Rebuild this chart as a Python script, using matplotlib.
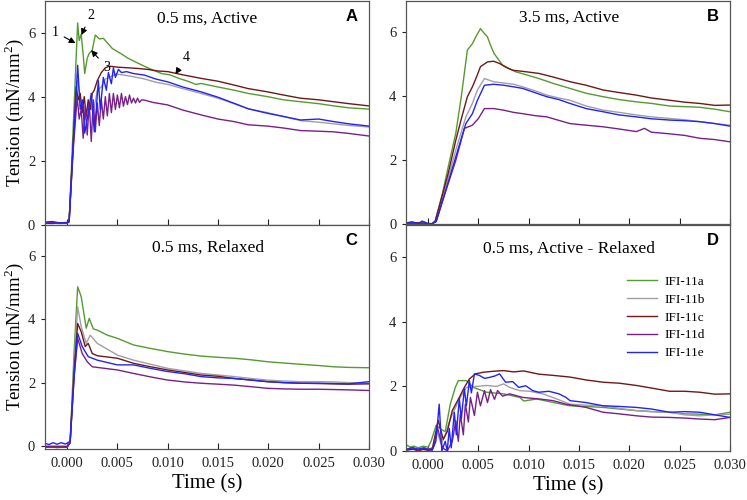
import matplotlib
matplotlib.use("Agg")
import matplotlib.pyplot as plt

plt.rcParams['font.family'] = ['Liberation Serif', 'DejaVu Serif']
plt.rcParams['mathtext.fontset'] = 'custom'
plt.rcParams['mathtext.rm'] = 'Liberation Serif'

names = ['IFI-11a', 'IFI-11b', 'IFI-11c', 'IFI-11d', 'IFI-11e']
colors = ['#569a30', '#a0a0a0', '#701818', '#781f8c', '#2222ff']

# ---- panel A : 0.5 ms, Active ----
a_t_a = [-0.0022, -0.0015, -0.0008, 0.0, 0.0002, 0.0006, 0.00095, 0.00105, 0.0012, 0.0014, 0.0016, 0.00175, 0.002, 0.0022, 0.0025, 0.0028, 0.0032, 0.0036, 0.0045, 0.0053, 0.0061, 0.007, 0.0078, 0.0086, 0.0094, 0.0102, 0.0111, 0.012, 0.0128, 0.0133, 0.015, 0.0166, 0.018, 0.0199, 0.0215, 0.0232, 0.025, 0.0265, 0.028, 0.030]
a_y_a = [0.05, 0.08, 0.04, 0.05, 0.1, 3.0, 5.6, 6.3, 5.75, 5.95, 5.3, 4.72, 5.2, 5.35, 5.45, 5.92, 5.8, 5.82, 5.5, 5.35, 5.19, 5.05, 4.93, 4.82, 4.72, 4.68, 4.57, 4.48, 4.38, 4.41, 4.3, 4.2, 4.1, 4.0, 3.9, 3.84, 3.78, 3.71, 3.65, 3.61]
a_t_b = [-0.0022, 0.0, 0.0002, 0.0006, 0.00105, 0.0014, 0.0018, 0.0022, 0.0026, 0.003, 0.0034, 0.0038, 0.0042, 0.0048, 0.0055, 0.0066, 0.0077, 0.0088, 0.01, 0.0115, 0.0133, 0.015, 0.0166, 0.018, 0.0199, 0.0215, 0.0232, 0.025, 0.0265, 0.028, 0.030]
a_y_b = [0.05, 0.05, 0.1, 2.4, 4.5, 3.8, 3.3, 3.8, 3.5, 4.2, 4.3, 4.55, 4.6, 4.7, 4.68, 4.62, 4.55, 4.45, 4.38, 4.25, 4.1, 3.95, 3.78, 3.62, 3.5, 3.38, 3.25, 3.2, 3.15, 3.1, 3.05]
a_t_c = [-0.0022, -0.0015, -0.0008, 0.0, 0.0002, 0.0006, 0.0009, 0.0011, 0.0013, 0.0015, 0.0017, 0.0019, 0.0021, 0.0023, 0.0025, 0.0027, 0.003, 0.0034, 0.0038, 0.0042, 0.005, 0.006, 0.007, 0.008, 0.009, 0.01, 0.0115, 0.0133, 0.015, 0.0166, 0.018, 0.0199, 0.0215, 0.0232, 0.025, 0.0265, 0.028, 0.030]
a_y_c = [0.08, 0.1, 0.06, 0.07, 0.1, 2.5, 4.3, 3.9, 4.1, 3.5, 4.0, 3.4, 3.9, 3.6, 4.1, 4.2, 4.5, 4.75, 4.9, 4.95, 4.92, 4.9, 4.88, 4.85, 4.8, 4.78, 4.68, 4.57, 4.48, 4.36, 4.25, 4.15, 4.05, 3.95, 3.9, 3.84, 3.78, 3.71]
a_t_d = [-0.0022, -0.0015, -0.0008, 0.0, 0.0002, 0.0006, 0.001, 0.0012, 0.0014, 0.0016, 0.0018, 0.002, 0.0022, 0.0024, 0.0026, 0.0028, 0.003, 0.0032, 0.0034, 0.0036, 0.0038, 0.004, 0.0042, 0.0044, 0.0046, 0.0048, 0.005, 0.0052, 0.0054, 0.0056, 0.0058, 0.006, 0.0062, 0.0064, 0.0066, 0.0068, 0.007, 0.0072, 0.0074, 0.0077, 0.0085, 0.01, 0.0115, 0.0133, 0.015, 0.0166, 0.018, 0.0199, 0.0215, 0.0232, 0.025, 0.0265, 0.028, 0.030]
a_y_d = [0.06, 0.08, 0.05, 0.07, 0.1, 2.3, 4.0, 3.3, 3.6, 2.7, 3.7, 2.8, 3.8, 2.6, 3.9, 2.9, 3.8, 3.1, 3.9, 3.3, 4.0, 3.4, 4.1, 3.5, 4.1, 3.6, 4.05, 3.65, 4.1, 3.7, 4.0, 3.75, 4.05, 3.8, 3.95, 3.8, 3.95, 3.82, 3.9, 3.89, 3.82, 3.74, 3.58, 3.43, 3.3, 3.22, 3.12, 3.08, 3.02, 2.94, 2.92, 2.9, 2.85, 2.77]
a_t_e = [-0.0022, -0.0015, -0.0008, 0.0, 0.0002, 0.0006, 0.00105, 0.0013, 0.00155, 0.00175, 0.002, 0.0024, 0.0027, 0.0029, 0.0031, 0.0033, 0.0036, 0.0039, 0.0041, 0.0044, 0.0046, 0.0048, 0.0051, 0.0054, 0.0059, 0.0066, 0.0077, 0.0088, 0.01, 0.0115, 0.0133, 0.015, 0.0166, 0.018, 0.0199, 0.0215, 0.0232, 0.025, 0.0265, 0.028, 0.030]
a_y_e = [0.05, 0.04, 0.06, 0.05, 0.1, 2.5, 4.98, 3.6, 3.9, 2.86, 3.3, 4.1, 2.9, 3.6, 4.5, 3.6, 4.6, 4.2, 4.75, 4.4, 4.9, 4.6, 4.85, 4.75, 4.78, 4.72, 4.67, 4.55, 4.46, 4.3, 4.15, 3.98, 3.79, 3.62, 3.48, 3.38, 3.27, 3.3, 3.22, 3.15, 3.08]

# ---- panel B : 3.5 ms, Active ----
b_t_a = [-0.0022, -0.0015, -0.001, -0.0005, 0.0, 0.0004, 0.0007, 0.00143, 0.002, 0.00275, 0.0033, 0.0039, 0.0044, 0.0048, 0.0052, 0.0055, 0.0059, 0.0062, 0.00656, 0.007, 0.0074, 0.008, 0.0087, 0.0095, 0.011, 0.0125, 0.0141, 0.0157, 0.0174, 0.019, 0.0207, 0.0222, 0.024, 0.0255, 0.027, 0.0285, 0.030]
b_y_a = [0.03, 0.06, 0.0, 0.08, 0.02, 0.02, 0.1, 0.97, 1.8, 2.85, 4.0, 5.45, 5.65, 5.9, 6.12, 6.0, 5.86, 5.6, 5.34, 5.15, 4.98, 4.88, 4.77, 4.7, 4.56, 4.4, 4.25, 4.1, 3.99, 3.9, 3.83, 3.78, 3.7, 3.68, 3.66, 3.6, 3.52]
b_t_b = [-0.0022, 0.0, 0.0004, 0.0008, 0.0015, 0.00275, 0.00375, 0.0044, 0.0049, 0.0056, 0.0065, 0.0075, 0.0085, 0.0094, 0.0106, 0.0118, 0.013, 0.0141, 0.0157, 0.0174, 0.019, 0.0207, 0.0222, 0.024, 0.0255, 0.027, 0.0285, 0.030]
b_y_b = [0.02, 0.02, 0.02, 0.1, 0.9, 2.32, 3.36, 3.78, 4.2, 4.56, 4.46, 4.42, 4.38, 4.3, 4.18, 4.04, 3.95, 3.88, 3.7, 3.57, 3.5, 3.42, 3.36, 3.31, 3.27, 3.21, 3.15, 3.1]
b_t_c = [-0.0022, -0.001, 0.0, 0.0004, 0.0007, 0.0011, 0.002, 0.00275, 0.0033, 0.0039, 0.0044, 0.0048, 0.0052, 0.0059, 0.0065, 0.0071, 0.0078, 0.0084, 0.0095, 0.011, 0.0125, 0.0141, 0.0157, 0.0174, 0.019, 0.0207, 0.0222, 0.024, 0.0255, 0.027, 0.0285, 0.030]
b_y_c = [0.03, 0.05, 0.02, 0.02, 0.1, 0.55, 1.6, 2.63, 3.3, 3.99, 4.3, 4.6, 4.93, 5.08, 5.1, 5.03, 4.9, 4.82, 4.78, 4.72, 4.6, 4.46, 4.35, 4.2, 4.12, 4.04, 3.95, 3.88, 3.82, 3.78, 3.72, 3.73]
b_t_d = [-0.0022, 0.0, 0.0004, 0.0008, 0.0015, 0.00275, 0.0036, 0.0044, 0.005, 0.0056, 0.0065, 0.0075, 0.0085, 0.0094, 0.0106, 0.0118, 0.013, 0.0141, 0.0157, 0.0174, 0.019, 0.0207, 0.0215, 0.0222, 0.024, 0.0255, 0.027, 0.0285, 0.030]
b_y_d = [0.02, 0.02, 0.02, 0.1, 0.8, 2.0, 3.0, 3.1, 3.31, 3.62, 3.62, 3.57, 3.5, 3.46, 3.4, 3.36, 3.25, 3.15, 3.1, 3.05, 2.98, 2.9, 3.0, 2.88, 2.83, 2.78, 2.69, 2.65, 2.58]
b_t_e = [-0.0022, -0.0016, -0.001, -0.0006, 0.0, 0.0004, 0.0008, 0.0015, 0.00275, 0.00375, 0.0044, 0.0049, 0.0056, 0.0065, 0.0075, 0.0085, 0.0094, 0.0106, 0.0118, 0.013, 0.0141, 0.0157, 0.0174, 0.019, 0.0207, 0.0222, 0.024, 0.0255, 0.027, 0.0285, 0.030]
b_y_e = [0.04, 0.08, 0.02, 0.1, 0.02, 0.02, 0.08, 0.8, 2.11, 3.15, 3.46, 3.88, 4.35, 4.38, 4.35, 4.3, 4.25, 4.12, 3.99, 3.9, 3.78, 3.62, 3.52, 3.42, 3.36, 3.3, 3.26, 3.24, 3.21, 3.15, 3.07]

# ---- panel C : 0.5 ms, Relaxed ----
c_t_a = [-0.0022, -0.0015, -0.001, -0.0005, 0.0, 0.0003, 0.0007, 0.00105, 0.0014, 0.0019, 0.0022, 0.0026, 0.003, 0.004, 0.005, 0.0066, 0.0083, 0.01, 0.0117, 0.0133, 0.015, 0.0166, 0.0183, 0.0199, 0.0215, 0.0232, 0.025, 0.0265, 0.028, 0.030]
c_y_a = [-0.05, -0.03, -0.06, -0.04, -0.05, 0.1, 3.0, 5.03, 4.72, 3.72, 4.03, 3.7, 3.66, 3.5, 3.4, 3.19, 3.08, 2.98, 2.9, 2.84, 2.8, 2.77, 2.72, 2.66, 2.62, 2.58, 2.54, 2.5, 2.48, 2.47]
c_t_b = [-0.0022, 0.0, 0.0003, 0.0007, 0.00105, 0.0014, 0.0019, 0.0023, 0.003, 0.005, 0.0066, 0.0083, 0.01, 0.0117, 0.0133, 0.015, 0.0166, 0.0183, 0.0199, 0.0215, 0.0232, 0.025, 0.0265, 0.028, 0.030]
c_y_b = [0.0, 0.0, 0.1, 2.6, 4.4, 3.77, 3.24, 3.5, 3.24, 2.87, 2.71, 2.58, 2.45, 2.37, 2.29, 2.24, 2.19, 2.13, 2.08, 2.05, 2.03, 2.03, 2.02, 2.0, 1.98]
c_t_c = [-0.0022, 0.0, 0.0003, 0.0007, 0.00105, 0.0014, 0.0018, 0.0021, 0.0025, 0.003, 0.005, 0.0066, 0.0083, 0.01, 0.0117, 0.0133, 0.015, 0.0166, 0.0183, 0.0199, 0.0215, 0.0232, 0.025, 0.0265, 0.028, 0.030]
c_y_c = [-0.03, -0.03, 0.1, 2.4, 3.87, 3.61, 3.14, 3.24, 2.92, 2.85, 2.77, 2.61, 2.5, 2.4, 2.32, 2.24, 2.2, 2.13, 2.08, 2.03, 2.0, 1.98, 1.97, 1.96, 1.95, 1.96]
c_t_d = [-0.0022, 0.0, 0.0003, 0.0007, 0.00105, 0.0015, 0.002, 0.0025, 0.005, 0.0066, 0.0083, 0.01, 0.0117, 0.0133, 0.015, 0.0166, 0.0183, 0.0199, 0.0215, 0.0232, 0.025, 0.0265, 0.028, 0.030]
c_y_d = [-0.04, -0.04, 0.1, 2.2, 3.4, 2.92, 2.66, 2.5, 2.4, 2.29, 2.18, 2.08, 2.02, 1.98, 1.95, 1.92, 1.87, 1.82, 1.8, 1.79, 1.79, 1.78, 1.77, 1.75]
c_t_e = [-0.0022, -0.0018, -0.0014, -0.001, -0.0006, -0.0002, 0.0, 0.0003, 0.0007, 0.00105, 0.0015, 0.0021, 0.003, 0.005, 0.0066, 0.0083, 0.01, 0.0117, 0.0133, 0.015, 0.0166, 0.0183, 0.0199, 0.0215, 0.0232, 0.025, 0.0265, 0.028, 0.030]
c_y_e = [0.08, 0.04, 0.1, 0.05, 0.1, 0.06, 0.08, 0.15, 2.2, 3.56, 3.14, 2.82, 2.71, 2.56, 2.56, 2.45, 2.35, 2.28, 2.19, 2.15, 2.13, 2.08, 2.03, 2.0, 1.98, 1.98, 1.97, 1.96, 2.03]

# ---- panel D : 0.5 ms, Active - Relaxed ----
d_t_a = [-0.0022, -0.0018, -0.0014, -0.001, -0.0005, 0.0, 0.0003, 0.0008, 0.0013, 0.0017, 0.0022, 0.0027, 0.003, 0.0038, 0.0045, 0.0058, 0.0075, 0.0091, 0.0095, 0.0108, 0.0125, 0.0141, 0.0157, 0.0174, 0.019, 0.0207, 0.0222, 0.024, 0.0255, 0.027, 0.0285, 0.030]
d_y_a = [0.2, 0.12, 0.15, 0.1, 0.15, 0.12, 0.31, 0.8, 0.67, 0.6, 1.45, 1.97, 2.18, 2.18, 1.97, 1.82, 1.77, 1.66, 1.55, 1.61, 1.5, 1.4, 1.38, 1.35, 1.3, 1.25, 1.22, 1.2, 1.15, 1.14, 1.12, 1.2]
d_t_b = [-0.0022, -0.001, 0.0, 0.0005, 0.0009, 0.0013, 0.0017, 0.0021, 0.0025, 0.0032, 0.0038, 0.0048, 0.0058, 0.0068, 0.0075, 0.0081, 0.0091, 0.0101, 0.0114, 0.0128, 0.0141, 0.0157, 0.0174, 0.019, 0.0207, 0.0222, 0.024, 0.0255, 0.027, 0.0285, 0.030]
d_y_b = [0.05, 0.05, 0.05, 0.1, 0.6, 0.2, 0.5, 0.9, 1.2, 1.66, 1.97, 2.0, 2.03, 2.0, 2.08, 1.97, 1.87, 1.85, 1.77, 1.61, 1.45, 1.42, 1.4, 1.32, 1.25, 1.22, 1.2, 1.12, 1.09, 1.12, 1.14]
d_t_c = [-0.0022, -0.0015, -0.001, -0.0005, 0.0, 0.0004, 0.0007, 0.001, 0.0015, 0.0019, 0.0024, 0.0031, 0.0036, 0.0041, 0.0047, 0.0055, 0.0065, 0.0075, 0.0085, 0.0095, 0.0101, 0.011, 0.0125, 0.0141, 0.0157, 0.0174, 0.019, 0.0207, 0.0222, 0.024, 0.0255, 0.027, 0.0285, 0.030]
d_y_c = [0.02, 0.06, 0.0, 0.05, 0.02, 0.05, 0.5, 0.95, 0.36, 0.6, 1.25, 1.66, 1.97, 2.23, 2.39, 2.44, 2.47, 2.49, 2.45, 2.48, 2.44, 2.38, 2.34, 2.29, 2.2, 2.13, 2.1, 2.03, 1.95, 1.85, 1.85, 1.82, 1.76, 1.77]
d_t_d = [-0.0022, -0.0015, -0.001, -0.0005, 0.0, 0.0005, 0.00093, 0.00143, 0.0019, 0.0024, 0.00275, 0.003, 0.0032, 0.0035, 0.0037, 0.004, 0.0042, 0.0046, 0.0049, 0.0052, 0.0056, 0.0059, 0.0062, 0.0066, 0.0069, 0.0074, 0.0081, 0.0094, 0.0111, 0.0124, 0.0137, 0.0157, 0.0174, 0.019, 0.0207, 0.0222, 0.024, 0.0255, 0.027, 0.0285, 0.030]
d_y_d = [0.05, 0.1, 0.03, 0.08, 0.05, 0.1, 0.73, 0.1, 0.0, 0.3, 0.93, 0.3, 1.14, 0.5, 1.45, 0.9, 1.66, 1.1, 1.82, 1.4, 1.87, 1.5, 1.9, 1.6, 1.87, 1.7, 1.77, 1.66, 1.61, 1.56, 1.45, 1.35, 1.2, 1.15, 1.09, 1.05, 1.04, 1.02, 0.99, 0.97, 1.04]
d_t_e = [-0.0022, -0.0016, -0.001, -0.0004, 0.0, 0.0004, 0.00077, 0.0011, 0.00136, 0.0017, 0.0019, 0.0021, 0.0023, 0.0026, 0.0028, 0.0031, 0.0033, 0.0036, 0.0038, 0.0041, 0.0043, 0.0046, 0.0051, 0.0056, 0.0061, 0.0066, 0.0071, 0.0077, 0.0084, 0.009, 0.0097, 0.0104, 0.011, 0.012, 0.013, 0.0137, 0.0141, 0.0157, 0.0174, 0.019, 0.0207, 0.0222, 0.024, 0.0255, 0.027, 0.0285, 0.030]
d_y_e = [0.05, 0.1, 0.06, 0.1, 0.05, 0.02, 0.3, 1.45, 0.0, 0.3, 0.0, 0.7, 0.1, 1.2, 0.5, 1.62, 1.0, 1.93, 1.4, 2.18, 1.8, 2.39, 2.34, 2.25, 2.28, 2.32, 2.39, 2.13, 2.15, 1.97, 2.02, 1.87, 1.82, 1.85, 1.77, 1.66, 1.56, 1.5, 1.4, 1.38, 1.35, 1.3, 1.2, 1.22, 1.2, 1.12, 1.04]

x_ticks = [0.0, 0.005, 0.010, 0.015, 0.020, 0.025, 0.030]
x_labels = ['0.000', '0.005', '0.010', '0.015', '0.020', '0.025', '0.030']
y_ticks = [0, 2, 4, 6]

fig = plt.figure(figsize=(7.47, 5), dpi=100)
axA = fig.add_axes([0.0602, 0.5505, 0.4337, 0.4485])
axB = fig.add_axes([0.5435, 0.5514, 0.4337, 0.4476])
axC = fig.add_axes([0.0602, 0.102, 0.4337, 0.449])
axD = fig.add_axes([0.5435, 0.098, 0.4337, 0.452])

panels = [
    (axA, [(a_t_a, a_y_a), (a_t_b, a_y_b), (a_t_c, a_y_c), (a_t_d, a_y_d), (a_t_e, a_y_e)], '0.5 ms, Active', 'A', (0, 7), 0.92),
    (axB, [(b_t_a, b_y_a), (b_t_b, b_y_b), (b_t_c, b_y_c), (b_t_d, b_y_d), (b_t_e, b_y_e)], '3.5 ms, Active', 'B', (0, 7), 0.925),
    (axC, [(c_t_a, c_y_a), (c_t_b, c_y_b), (c_t_c, c_y_c), (c_t_d, c_y_d), (c_t_e, c_y_e)], '0.5 ms, Relaxed', 'C', (-0.1, 7), 0.895),
    (axD, [(d_t_a, d_y_a), (d_t_b, d_y_b), (d_t_c, d_y_c), (d_t_d, d_y_d), (d_t_e, d_y_e)], '0.5 ms, Active - Relaxed', 'D', (0, 7), 0.895),
]

for ax, series, title, letter, ylim, ty in panels:
    for (t, y), nm, col in zip(series, names, colors):
        ax.plot(t, y, color=col, lw=1.0, label=nm)
    ax.set_xlim(-0.0022, 0.030)
    ax.set_ylim(*ylim)
    ax.set_xticks(x_ticks)
    ax.set_yticks(y_ticks)
    ax.tick_params(axis='x', direction='in', length=4, width=0.8, pad=6, labelsize=10.5, colors='#222222')
    ax.tick_params(axis='y', direction='out', length=3, width=0.8, pad=4, labelsize=10.5, colors='#222222')
    for sp in ax.spines.values():
        sp.set_color('#555555')
        sp.set_linewidth(0.9)
    ax.text(0.502, ty, title, transform=ax.transAxes, ha='center', va='center', fontsize=12.5)
    ax.text(0.946, 0.93, letter, transform=ax.transAxes, ha='center', va='center',
            fontsize=12, fontweight='bold', family='Liberation Sans')

for ax in (axA, axB):
    ax.tick_params(axis='x', labelbottom=False)
for ax in (axC, axD):
    ax.set_xticklabels(x_labels)
    ax.set_xlabel('Time (s)', fontsize=15, labelpad=3)
for ax in (axA, axC):
    ax.set_ylabel('Tension (mN/mm$^{2}$)', fontsize=13.5)
    ax.yaxis.set_label_coords(-0.058, 0.5)

# numbered arrows in panel A
arrow_kw = dict(arrowstyle='-|>', color='black', lw=0.8, mutation_scale=9, shrinkA=2, shrinkB=0)
axA.annotate('1', xy=(0.00083, 5.67), xytext=(-0.00116, 6.01), fontsize=10, ha='center', va='center', arrowprops=arrow_kw)
axA.annotate('2', xy=(0.00142, 5.92), xytext=(0.00232, 6.54), fontsize=10, ha='center', va='center', arrowprops=arrow_kw)
axA.annotate('3', xy=(0.00239, 5.45), xytext=(0.0039, 4.92), fontsize=10, ha='center', va='center', arrowprops=arrow_kw)
axA.annotate('4', xy=(0.01077, 4.70), xytext=(0.01186, 5.23), fontsize=10, ha='center', va='center', arrowprops=arrow_kw)

axD.legend(loc='upper left', bbox_to_anchor=(0.681, 0.775), frameon=False, fontsize=9.5,
           handlelength=2.3, handletextpad=0.55, labelspacing=0.42, borderpad=0, borderaxespad=0)

fig.savefig('out.png', dpi=100)
